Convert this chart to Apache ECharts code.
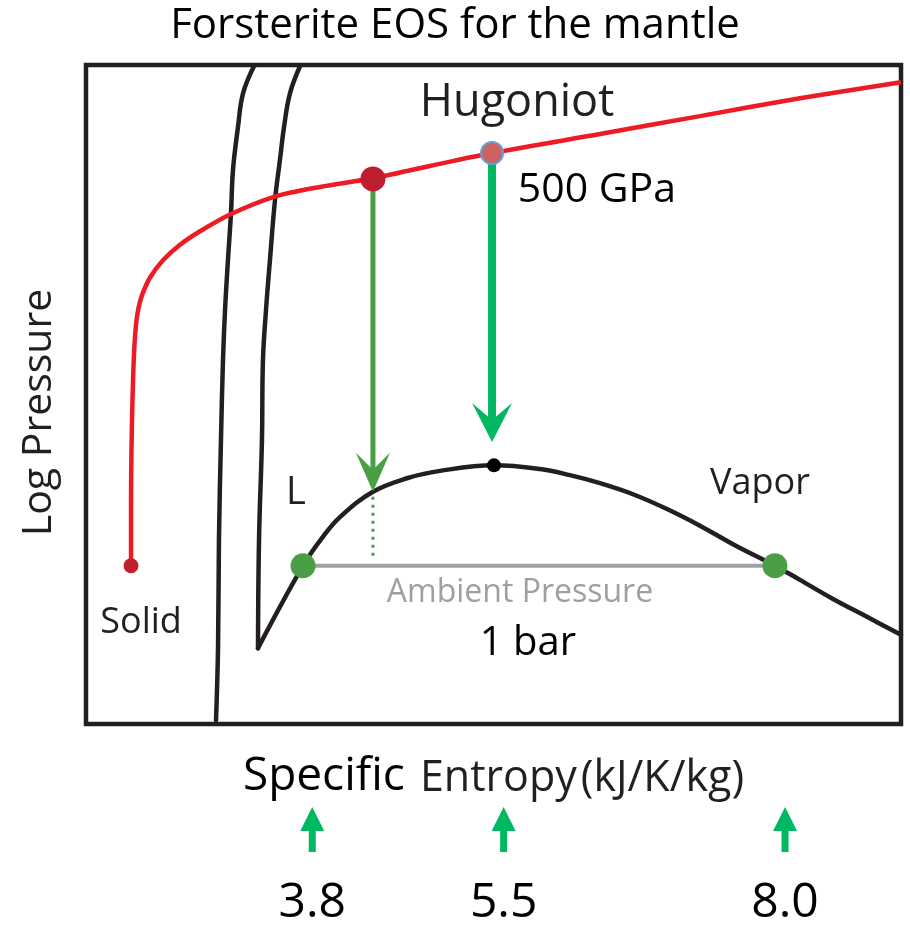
<!DOCTYPE html>
<html><head><meta charset="utf-8">
<script src="https://cdn.jsdelivr.net/npm/echarts@6/dist/echarts.min.js"></script>
<style>html,body{margin:0;padding:0;background:#fff}#c{width:910px;height:927px}</style>
</head><body><div id="c"></div>
<script>
// ---- axis ranges (entropy in kJ/K/kg, log10 pressure in bar) ----
const entropyMin = 1.79, entropyMax = 9.03;
const logPMin = -2.57, logPMax = 8.13;
const entropyTicks = [3.8, 5.5, 8.0];

// ---- Hugoniot (red) ----
const hugoniotS = [2.190,2.190,2.194,2.203,2.216,2.234,2.256,2.287,2.359,2.474,2.625,2.803,3.078,3.460,3.869,4.339,4.846,5.397,6.356,7.244,8.132,9.030];
const hugoniotP = [0.00,1.07,1.88,2.69,3.42,3.91,4.18,4.39,4.68,4.96,5.21,5.43,5.71,5.99,6.15,6.29,6.49,6.70,7.01,7.30,7.59,7.85];

// ---- solidus (black, left) ----
const solidusS = [3.282,3.185,3.140,3.096,3.078,3.051,3.025,3.007,2.989,2.971,2.963,2.945];
const solidusP = [8.11,7.67,7.12,6.43,5.73,4.96,4.15,3.34,2.04,0.42,-1.32,-2.51];

// ---- liquidus (black, right) ----
const liquidusS = [3.691,3.602,3.549,3.513,3.469,3.424,3.389,3.362,3.353,3.327,3.318];
const liquidusP = [8.11,7.67,7.12,6.59,5.94,4.96,4.15,3.34,2.04,0.42,-1.34];

// ---- vapor dome (black) ----
const domeS = [3.318,3.718,3.895,4.046,4.339,4.641,4.935,5.414,5.823,6.089,6.356,6.649,6.951,7.244,7.537,7.910,8.132,8.426,8.728,9.030];
const domeP = [-1.34,0.00,0.47,0.79,1.20,1.42,1.54,1.63,1.57,1.47,1.34,1.16,0.92,0.65,0.35,0.00,-0.23,-0.54,-0.83,-1.12];

// ---- special points ----
const solidStartPt = [2.190, 0.00];
const shockPtA = [4.339, 6.28];
const shockPtB = [5.397, 6.70];
const criticalPt = [5.414, 1.63];
const ambientPts = [[3.718, 0.00], [7.910, 0.00]];
const ambientLogP = 0.0;
const releaseA = [4.339, 6.28, 1.20];     // x, from, to
const releaseB = [5.397, 6.70, 2.01];
const releaseDotted = [4.339, 1.12, 0.09];

// ---- annotations ----
const annoText = ['Hugoniot','500 GPa','L','Vapor','Solid','Ambient Pressure','1 bar'];
const annoS    = [5.619, 6.329, 3.655, 7.777, 2.279, 5.645, 5.716];
const annoP    = [7.51, 6.10, 1.17, 1.33, -0.93, -0.44, -1.26];

const FONT = '"Open Sans", "Noto Sans", sans-serif';
const annoStyle = {
  'Hugoniot': {fontSize: 45, color: '#231f20'},
  '500 GPa': {fontSize: 41, color: '#000'},
  'L': {fontSize: 38, color: '#231f20'},
  'Vapor': {fontSize: 36, color: '#231f20'},
  'Solid': {fontSize: 36, color: '#231f20'},
  'Ambient Pressure': {fontSize: 32, color: '#9d9fa2'},
  '1 bar': {fontSize: 40, color: '#000'}
};

const zip = (a, b) => a.map((v, i) => [v, b[i]]);

function makeArrow(name, data, o, axis) {
  return {
    name, type: 'custom', xAxisIndex: axis, yAxisIndex: axis, clip: false, z: o.z || 5,
    data: data,
    renderItem: function (params, api) {
      const x = api.value(0);
      const p0 = api.coord([x, api.value(1)]);
      const p1 = api.coord([x, api.value(2)]);
      const dir = p1[1] > p0[1] ? 1 : -1;
      const tip = p1;
      const baseY = tip[1] - dir * o.headLen;
      const notchY = tip[1] - dir * (o.headLen - o.notch);
      return {
        type: 'group',
        children: [
          { type: 'line', shape: {x1: p0[0], y1: p0[1], x2: p0[0], y2: notchY + dir * 2},
            style: {stroke: o.color, lineWidth: o.shaft} },
          { type: 'polygon', shape: {points: [tip, [tip[0] - o.half, baseY], [tip[0], notchY], [tip[0] + o.half, baseY]]},
            style: {fill: o.color} }
        ]
      };
    }
  };
}

const chart = echarts.init(document.getElementById('c'));
chart.setOption({
  animation: false,
  backgroundColor: '#fff',
  textStyle: {fontFamily: FONT},
  title: {
    text: 'Forsterite EOS for the mantle', left: 'center', top: 0,
    textStyle: {fontSize: 42, fontWeight: 'normal', color: '#000', fontFamily: FONT}
  },
  grid: [
    {left: 86, right: 9, top: 65, bottom: 203, show: true, borderColor: '#231f20', borderWidth: 4.5,
     backgroundColor: 'transparent', outerBoundsMode: 'none', containLabel: false},
    {left: 86, right: 9, top: 807, height: 45, outerBoundsMode: 'none', containLabel: false}
  ],
  xAxis: [
    {type: 'value', gridIndex: 0, min: entropyMin, max: entropyMax,
     axisLine: {show: false}, axisTick: {show: false}, axisLabel: {show: false}, splitLine: {show: false},
     name: '{a|Specific}{s| }{b|Entropy}{s2| }{c|(kJ/K/kg)}', nameLocation: 'middle', nameGap: 30,
     nameTextStyle: {rich: {
       a: {fontSize: 46, color: '#000', fontFamily: FONT, verticalAlign: 'bottom'},
       s: {fontSize: 46, color: '#000', fontFamily: FONT, verticalAlign: 'bottom', width: 15},
       b: {fontSize: 43, color: '#231f20', fontFamily: FONT, verticalAlign: 'bottom'},
       s2: {fontSize: 42, color: '#000', fontFamily: FONT, verticalAlign: 'bottom', width: 4},
       c: {fontSize: 43, color: '#231f20', fontFamily: FONT, verticalAlign: 'bottom'}
     }}},
    {type: 'value', gridIndex: 1, min: entropyMin, max: entropyMax,
     axisLine: {show: false}, axisTick: {show: false}, splitLine: {show: false},
     axisLabel: {show: true, customValues: entropyTicks, formatter: v => v.toFixed(1),
       fontSize: 48, color: '#000', margin: 27, fontFamily: FONT}}
  ],
  yAxis: [
    {type: 'value', gridIndex: 0, min: logPMin, max: logPMax,
     axisLine: {show: false}, axisTick: {show: false}, axisLabel: {show: false}, splitLine: {show: false},
     name: 'Log Pressure', nameLocation: 'middle', nameGap: 26, nameRotate: 90,
     nameTextStyle: {fontSize: 41, color: '#231f20', fontFamily: FONT, padding: [0, 36, 0, 0]}},
    {type: 'value', gridIndex: 1, min: 0, max: 1, show: false}
  ],
  series: [
    {name: 'Solidus', type: 'line', data: zip(solidusS, solidusP), smooth: 0.4, symbol: 'none',
     lineStyle: {color: '#231f20', width: 4.5, cap: 'round'}, z: 2},
    {name: 'Liquidus', type: 'line', data: zip(liquidusS, liquidusP), smooth: 0.4, symbol: 'none',
     lineStyle: {color: '#231f20', width: 4.5, cap: 'round'}, z: 2},
    {name: 'Vapor dome', type: 'line', data: zip(domeS, domeP), smooth: 0.4, symbol: 'none',
     lineStyle: {color: '#231f20', width: 4.5, cap: 'round'}, z: 2},
    {name: 'Hugoniot', type: 'line', data: zip(hugoniotS, hugoniotP), smooth: 0.3, symbol: 'none',
     lineStyle: {color: '#ed1c24', width: 4.5}, z: 3},
    {name: 'Ambient', type: 'line', data: ambientPts.map(p => [p[0], ambientLogP]), symbol: 'none',
     lineStyle: {color: '#a0a1a4', width: 4}, z: 3},
    {name: 'Dotted', type: 'line', data: [[releaseDotted[0], releaseDotted[1]], [releaseDotted[0], releaseDotted[2]]], symbol: 'none',
     lineStyle: {color: '#4a9e46', width: 3, type: [3, 5]}, z: 3},
    makeArrow('Release A', [releaseA], {color: '#4a9e46', shaft: 5, headLen: 39, half: 17, notch: 17, z: 4}, 0),
    makeArrow('Release B', [releaseB], {color: '#00b862', shaft: 8, headLen: 39, half: 20, notch: 17, z: 4}, 0),
    makeArrow('Ticks', entropyTicks.map(s => [s, 0, 1]), {color: '#00b862', shaft: 7, headLen: 24, half: 12, notch: 0, z: 4}, 1),
    {name: 'Solid start', type: 'scatter', data: [solidStartPt], symbolSize: 15, itemStyle: {color: '#be1e2d', opacity: 1}, z: 6},
    {name: 'Shock A', type: 'scatter', data: [shockPtA], symbolSize: 25, itemStyle: {color: '#be1e2d', opacity: 1}, z: 6},
    {name: 'Shock B', type: 'scatter', data: [shockPtB], symbolSize: 22, itemStyle: {color: '#cd6360', borderColor: '#6b9bd1', borderWidth: 2, opacity: 1}, z: 6},
    {name: 'Critical', type: 'scatter', data: [criticalPt], symbolSize: 14, itemStyle: {color: '#000', opacity: 1}, z: 6},
    {name: 'Ambient pts', type: 'scatter', data: ambientPts, symbolSize: 25, itemStyle: {color: '#4a9e46', opacity: 1}, z: 6},
    {name: 'Labels', type: 'custom', xAxisIndex: 0, yAxisIndex: 0, clip: false, z: 7,
     data: annoText.map((t, i) => [annoS[i], annoP[i], i]),
     renderItem: function (params, api) {
       const p = api.coord([api.value(0), api.value(1)]);
       const t = annoText[api.value(2)];
       const st = annoStyle[t];
       return {type: 'text', x: p[0], y: p[1],
         style: {text: t, fill: st.color, fontSize: st.fontSize, fontFamily: FONT,
                 align: 'center', verticalAlign: 'middle'}};
     }}
  ]
});
</script></body></html>
